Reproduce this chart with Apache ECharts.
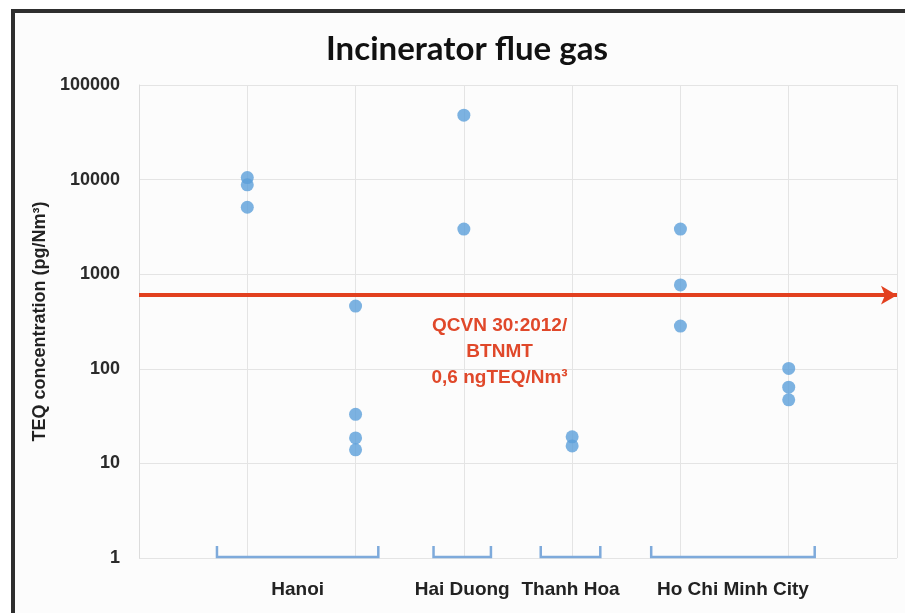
<!DOCTYPE html>
<html>
<head>
<meta charset="utf-8">
<script src="https://cdn.jsdelivr.net/npm/echarts@6/dist/echarts.min.js"></script>
<style>html,body{margin:0;padding:0;background:#fff;}#c{width:905px;height:613px;}</style>
</head>
<body>
<div id="c"></div>
<script>
// Sample columns (x positions 1..6) and TEQ values (pg/Nm3)
const pointX = [1, 1, 1, 2, 2, 2, 2, 3, 3, 4, 4, 5, 5, 5, 6, 6, 6];
const pointY = [10500, 8800, 5100, 460, 33, 18.6, 13.9, 48000, 3000, 19.1, 15.3, 3000, 770, 283, 101, 64, 47];
// Location groups: bracket start, end (x units), label
const groupNames = ['Hanoi', 'Hai Duong', 'Thanh Hoa', 'Ho Chi Minh City'];
const groupStart = [0.72, 2.72, 3.71, 4.73];
const groupEnd = [2.21, 3.25, 4.26, 6.24];
// Regulation limit
const limitValue = 600;
const limitText = ['QCVN 30:2012/', 'BTNMT', '0,6 ngTEQ/Nm\u00B3'];
const limitLabelPos = [3.33, 150];
const yTicks = [1, 10, 100, 1000, 10000, 100000];

const chart = echarts.init(document.getElementById('c'), null, {renderer: 'canvas'});
const pts = pointX.map((x, i) => [x, pointY[i]]);
const groups = groupNames.map((n, i) => [groupStart[i], groupEnd[i], n]);

chart.setOption({
  backgroundColor: '#fcfcfc',
  animation: false,
  title: {
    text: 'Incinerator flue gas',
    left: 462, top: 28, textAlign: 'center',
    textStyle: {fontFamily: 'Lato', fontWeight: 'bold', fontSize: 33, color: '#111'}
  },
  graphic: [
    {type: 'rect', shape: {x: 0, y: 0, width: 905, height: 9}, style: {fill: '#ffffff'}, silent: true},
    {type: 'rect', shape: {x: 0, y: 0, width: 11, height: 613}, style: {fill: '#ffffff'}, silent: true},
    {type: 'rect', shape: {x: 11, y: 9, width: 894, height: 4}, style: {fill: '#2e2e2e'}, silent: true},
    {type: 'rect', shape: {x: 11, y: 9, width: 4, height: 604}, style: {fill: '#2e2e2e'}, silent: true}
  ],
  grid: {left: 139, right: 8, top: 85, bottom: 55, containLabel: false},
  xAxis: {
    type: 'value', min: 0, max: 7, interval: 1,
    axisLine: {show: false}, axisTick: {show: false}, axisLabel: {show: false},
    splitLine: {show: true, lineStyle: {color: '#e4e4e4', width: 1}}
  },
  yAxis: {
    type: 'log', logBase: 10, min: yTicks[0], max: yTicks[yTicks.length - 1],
    name: 'TEQ concentration (pg/Nm\u00B3)', nameLocation: 'middle', nameGap: 84,
    nameTextStyle: {fontFamily: 'Liberation Sans', fontWeight: 'bold', fontSize: 18, color: '#222'},
    axisLine: {show: true, lineStyle: {color: '#dcdcdc', width: 1}},
    axisTick: {show: false},
    axisLabel: {
      margin: 19, fontFamily: 'Liberation Sans', fontWeight: 'bold', fontSize: 18, color: '#2a2a2a',
      formatter: v => String(Math.round(v))
    },
    splitLine: {show: true, lineStyle: {color: '#e4e4e4', width: 1}}
  },
  series: [
    {
      type: 'scatter', data: pts, symbolSize: 13,
      itemStyle: {color: '#5b9fd9'}, z: 3,
      markLine: {
        silent: true, symbol: ['none', 'arrow'], symbolSize: [14, 16],
        lineStyle: {color: '#e2401f', width: 4, type: 'solid'},
        label: {show: false},
        data: [{yAxis: limitValue}]
      },
      markPoint: {
        silent: true, symbol: 'circle', symbolSize: 0,
        data: [{coord: limitLabelPos, value: 0}],
        label: {
          show: true, position: 'inside', formatter: limitText.join('\n'),
          fontFamily: 'Liberation Sans', fontWeight: 'bold', fontSize: 19, lineHeight: 26,
          color: '#e0482a', align: 'center'
        }
      }
    },
    {
      type: 'custom', data: groups, clip: false, silent: true,
      encode: {x: [0, 1]},
      renderItem: function (params, api) {
        const a = api.coord([api.value(0), 1]);
        const b = api.coord([api.value(1), 1]);
        const y = a[1] - 1;
        const h = 11;
        return {
          type: 'group',
          children: [
            {type: 'polyline', shape: {points: [[a[0], y - h], [a[0], y], [b[0], y], [b[0], y - h]]},
             style: {stroke: '#7eaadb', lineWidth: 2.5, fill: null}},
            {type: 'text', style: {text: groupNames[params.dataIndex], x: (a[0] + b[0]) / 2, y: y + 33,
             textAlign: 'center', textVerticalAlign: 'middle',
             font: 'bold 19px "Liberation Sans"', fill: '#222'}}
          ]
        };
      }
    }
  ]
});
</script>
</body>
</html>
